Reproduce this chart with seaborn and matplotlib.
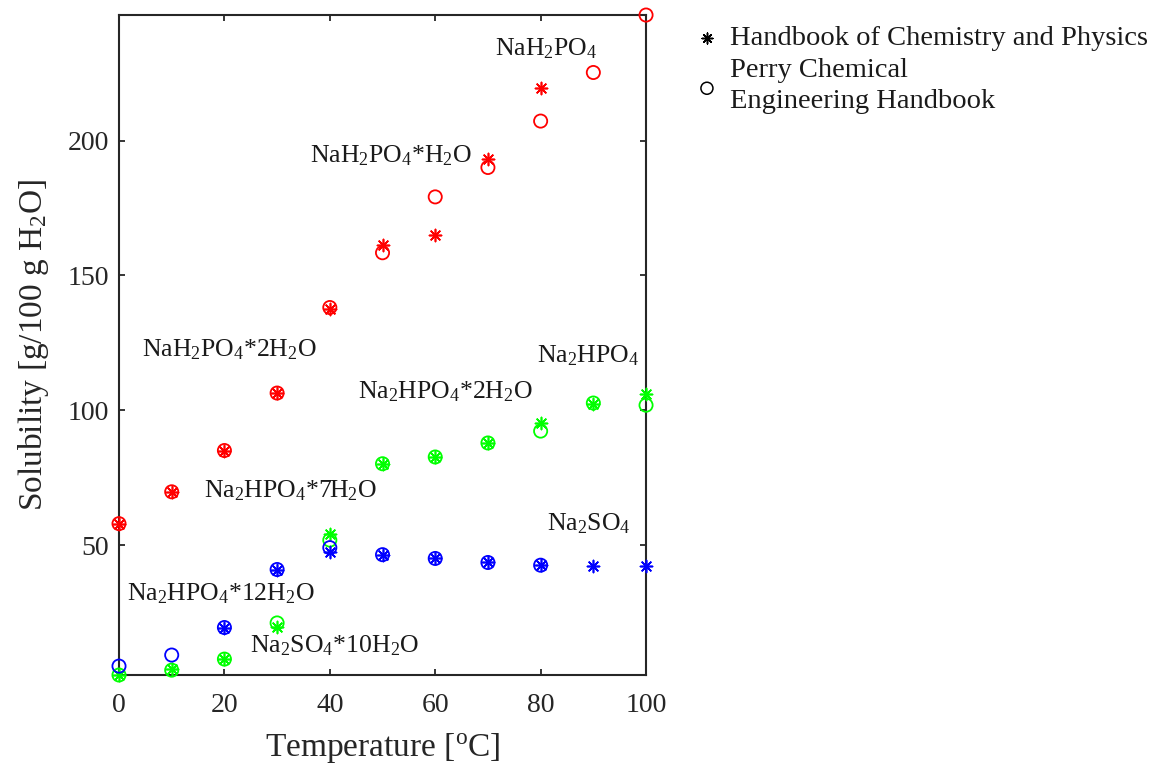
import numpy as np
import pandas as pd
import matplotlib
matplotlib.use("Agg")
import matplotlib.pyplot as plt
import seaborn as sns

# Solubility of sodium phosphates / sulfate in water [g per 100 g H2O]
# "crc" = Handbook of Chemistry and Physics, "perry" = Perry's handbook
temp_nah2po4_crc = [0, 10, 20, 30, 40, 50, 60, 70, 80]
sol_nah2po4_crc = [58.0, 69.8, 85.1, 106.4, 137.4, 161.2, 164.9, 193.3, 219.3]
temp_nah2po4_perry = [0, 10, 20, 30, 40, 50, 60, 70, 80, 90, 100]
sol_nah2po4_perry = [58.0, 69.8, 85.1, 106.4, 138.1, 158.4, 179.1, 190.0, 207.2, 225.2, 246.5]

temp_na2hpo4_crc = [0, 10, 20, 30, 40, 50, 60, 70, 80, 90, 100]
sol_na2hpo4_crc = [1.9, 4.3, 7.8, 19.8, 54.3, 80.2, 82.7, 87.9, 95.3, 102.3, 106.2]
temp_na2hpo4_perry = [0, 10, 20, 30, 40, 50, 60, 70, 80, 90, 100]
sol_na2hpo4_perry = [1.9, 3.7, 7.8, 21.2, 51.9, 80.2, 82.7, 87.9, 92.3, 102.7, 101.9]

temp_na2so4_crc = [20, 30, 40, 50, 60, 70, 80, 90, 100]
sol_na2so4_crc = [19.5, 41.0, 47.5, 46.5, 45.1, 43.6, 42.6, 42.2, 42.2]
temp_na2so4_perry = [0, 10, 20, 30, 40, 50, 60, 70, 80]
sol_na2so4_perry = [5.2, 9.3, 19.5, 41.0, 49.1, 46.5, 45.1, 43.6, 42.6]

# Solid phase labels: text, x, baseline y
phase_labels = [
    (r"NaH$_2$PO$_4$", 71.3, 231.7),
    (r"NaH$_2$PO$_4$*H$_2$O", 36.2, 192.0),
    (r"NaH$_2$PO$_4$*2H$_2$O", 4.4, 120.1),
    (r"Na$_2$HPO$_4$", 79.3, 117.9),
    (r"Na$_2$HPO$_4$*2H$_2$O", 45.3, 104.5),
    (r"Na$_2$HPO$_4$*7H$_2$O", 16.2, 67.8),
    (r"Na$_2$SO$_4$", 81.3, 55.6),
    (r"Na$_2$HPO$_4$*12H$_2$O", 1.5, 29.7),
    (r"Na$_2$SO$_4$*10H$_2$O", 24.9, 10.4),
]

sns.set_style("ticks")
plt.rcParams["font.family"] = ["Liberation Serif", "DejaVu Serif"]
plt.rcParams["mathtext.fontset"] = "custom"
plt.rcParams["mathtext.rm"] = "Liberation Serif"
plt.rcParams["mathtext.it"] = "Liberation Serif:italic"
plt.rcParams["mathtext.default"] = "rm"

fig = plt.figure(figsize=(11.52, 7.71), dpi=100)
ax = fig.add_axes([0.1033, 0.1245, 0.4575, 0.856])

asterisk = (8, 2, 0)
series = [
    (temp_nah2po4_crc, sol_nah2po4_crc, temp_nah2po4_perry, sol_nah2po4_perry, (1, 0, 0)),
    (temp_na2hpo4_crc, sol_na2hpo4_crc, temp_na2hpo4_perry, sol_na2hpo4_perry, (0, 1, 0)),
    (temp_na2so4_crc, sol_na2so4_crc, temp_na2so4_perry, sol_na2so4_perry, (0, 0, 1)),
]
for tc, sc, tp, sp, col in series:
    sns.scatterplot(x=tc, y=sc, ax=ax, marker=asterisk, s=75, color=col,
                    linewidth=1.2, zorder=3, legend=False, clip_on=False)
    sns.scatterplot(x=tp, y=sp, ax=ax, marker="o", s=90, facecolor="none",
                    edgecolor=col, linewidth=1.3, zorder=3, legend=False, clip_on=False)

for txt, x, y in phase_labels:
    ax.text(x, y, txt, fontsize=18.5, va="baseline", ha="left", color="#1a1a1a")

all_y = (sol_nah2po4_crc + sol_nah2po4_perry + sol_na2hpo4_crc
         + sol_na2hpo4_perry + sol_na2so4_crc + sol_na2so4_perry)
ax.set_xlim(0, 100)
ax.set_ylim(min(all_y), max(all_y))
ax.set_xticks([0, 20, 40, 60, 80, 100])
ax.set_yticks([50, 100, 150, 200])
ax.tick_params(direction="in", length=4.5, width=1.3, labelsize=20, colors="#262626",
               top=True, right=True, pad=7)
ax.tick_params(axis="x", pad=13)
for sp in ax.spines.values():
    sp.set_visible(True)
    sp.set_linewidth(1.5)
    sp.set_color("#262626")

ax.set_xlabel(r"Temperature [$^{\rm o}$C]", fontsize=24, color="#262626", labelpad=9)
ax.set_ylabel(r"Solubility [g/100 g H$_2$O]", fontsize=24, color="#262626", labelpad=12)

# Legend handles for the two data sources
h1 = ax.scatter([], [], marker=asterisk, s=60, color="black", linewidth=1.1)
h2 = ax.scatter([], [], marker="o", s=75, facecolor="none", edgecolor="black", linewidth=1.1)
leg = fig.legend([h1, h2], ["Handbook of Chemistry and Physics", "Perry Chemical\nEngineering Handbook"],
                 loc="upper left", bbox_to_anchor=(0.584, 0.993), frameon=False, fontsize=20.5,
                 handletextpad=0.3, labelspacing=0.25, handlelength=1.0, borderpad=0.2)
for t in leg.get_texts():
    t.set_linespacing(1.3)
    t.set_color("#1a1a1a")

fig.savefig("out.png", dpi=100)
